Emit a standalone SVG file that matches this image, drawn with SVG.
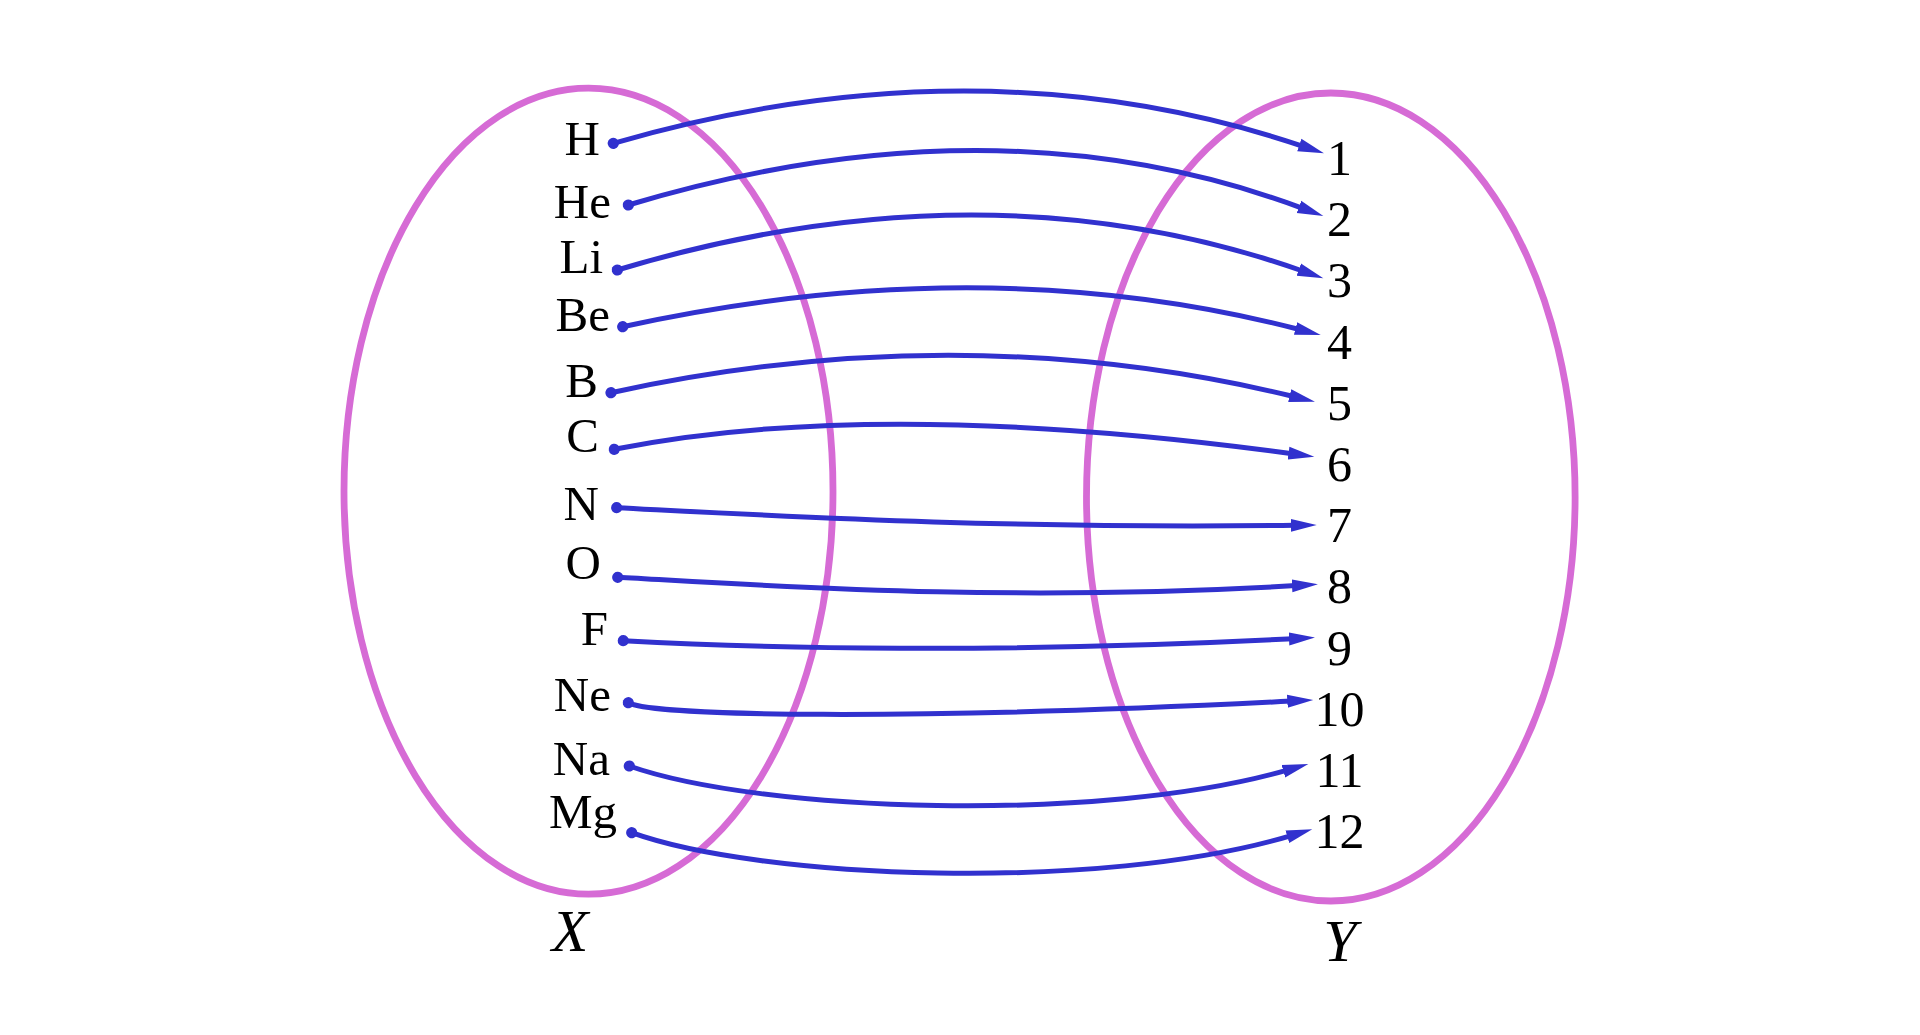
<svg xmlns="http://www.w3.org/2000/svg" width="1920" height="1035" viewBox="0 0 1920 1035">
<defs>
<style>
.set{fill:none;stroke:#d66bd5;stroke-width:6.8}
.lbl{font-family:"Liberation Serif","DejaVu Serif",serif;font-size:49px;fill:#000;text-anchor:end}
.num{font-family:"Liberation Serif","DejaVu Serif",serif;font-size:50px;fill:#000;text-anchor:middle}
.setname{font-family:"Liberation Serif","DejaVu Serif",serif;font-size:60px;font-style:italic;fill:#000;text-anchor:middle}
.edge{fill:none;stroke:#3131ce;stroke-width:5;marker-start:url(#dot);marker-end:url(#arr)}
</style>
<marker id="dot" markerUnits="userSpaceOnUse" markerWidth="14" markerHeight="14" refX="7" refY="7" orient="auto"><circle cx="7" cy="7" r="5.6" fill="#3131ce"/></marker>
<marker id="arr" markerUnits="userSpaceOnUse" markerWidth="30" markerHeight="16" refX="4" refY="8" orient="auto"><path d="M0,1.5 L26,8 L0,14.5 z" fill="#3131ce"/></marker>
</defs>
<rect width="1920" height="1035" fill="#fff"/>
<g id="set-X">
<ellipse class="set" cx="588.5" cy="491.2" rx="244.5" ry="403"/>
<text class="setname" x="570" y="951">X</text>
</g>
<g id="set-Y">
<ellipse class="set" cx="1330.8" cy="497" rx="244.3" ry="404"/>
<text class="setname" x="1340" y="961">Y</text>
</g>
<g id="node-H"><text class="lbl" x="600" y="155">H</text></g>
<g id="node-He"><text class="lbl" x="611" y="218">He</text></g>
<g id="node-Li"><text class="lbl" x="603" y="273">Li</text></g>
<g id="node-Be"><text class="lbl" x="610" y="331">Be</text></g>
<g id="node-B"><text class="lbl" x="598" y="397">B</text></g>
<g id="node-C"><text class="lbl" x="599" y="452">C</text></g>
<g id="node-N"><text class="lbl" x="599" y="520">N</text></g>
<g id="node-O"><text class="lbl" x="601" y="579">O</text></g>
<g id="node-F"><text class="lbl" x="608" y="645">F</text></g>
<g id="node-Ne"><text class="lbl" x="611" y="711">Ne</text></g>
<g id="node-Na"><text class="lbl" x="610" y="775">Na</text></g>
<g id="node-Mg"><text class="lbl" x="617" y="828">Mg</text></g>
<g id="node-1"><text class="num" x="1339.5" y="175">1</text></g>
<g id="node-2"><text class="num" x="1339.5" y="236.2">2</text></g>
<g id="node-3"><text class="num" x="1339.5" y="297.4">3</text></g>
<g id="node-4"><text class="num" x="1339.5" y="358.6">4</text></g>
<g id="node-5"><text class="num" x="1339.5" y="419.8">5</text></g>
<g id="node-6"><text class="num" x="1339.5" y="481">6</text></g>
<g id="node-7"><text class="num" x="1339.5" y="542.2">7</text></g>
<g id="node-8"><text class="num" x="1339.5" y="603.4">8</text></g>
<g id="node-9"><text class="num" x="1339.5" y="664.6">9</text></g>
<g id="node-10"><text class="num" x="1339.5" y="725.8">10</text></g>
<g id="node-11"><text class="num" x="1339.5" y="787">11</text></g>
<g id="node-12"><text class="num" x="1339.5" y="848.2">12</text></g>
<g id="connectors">
<path class="edge" d="M613.3,143.3 Q979,37.4 1303.1,146.3"/>
<path class="edge" d="M628.3,205 Q996,94.5 1302.7,208.3"/>
<path class="edge" d="M617.3,270 Q986,159.4 1302.6,271"/>
<path class="edge" d="M622.7,326.7 Q984,247.6 1299.4,329.5"/>
<path class="edge" d="M611,392.7 Q961,316 1293.6,396.5"/>
<path class="edge" d="M614.3,449.3 Q875.5,397 1292.5,453.7"/>
<path class="edge" d="M616.7,507.7 C780,516 1000,529 1294.7,525.3"/>
<path class="edge" d="M617.7,577.3 C760,585 1000,603 1296,585.6"/>
<path class="edge" d="M623.3,640.7 C760,648 1000,654 1293,638.7"/>
<path class="edge" d="M628.3,702.7 C655,716 900,721 1291.3,701.1"/>
<path class="edge" d="M629.3,766 C760,812 1100,824 1287.2,770.1"/>
<path class="edge" d="M631.7,832.7 C760,879 1100,893 1291.2,835.6"/>
</g>
</svg>
